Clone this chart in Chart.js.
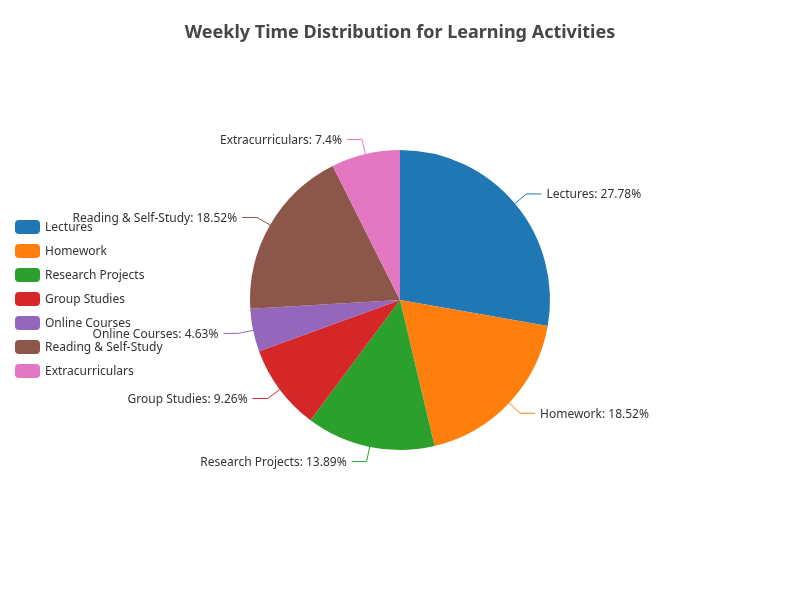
<!DOCTYPE html>
<html>
<head>
<meta charset="utf-8">
<script src="https://cdn.jsdelivr.net/npm/chart.js@4.4.0/dist/chart.umd.min.js"></script>
<style>
  html, body { margin: 0; padding: 0; background: #fff; }
  #wrap { width: 800px; height: 600px; }
</style>
</head>
<body>
<div id="wrap"><canvas id="pieCanvas" width="800" height="600"></canvas></div>
<script>
// data
var categories = ["Lectures", "Homework", "Research Projects", "Group Studies", "Online Courses", "Reading & Self-Study", "Extracurriculars"];
var hours = [15, 10, 7.5, 5, 2.5, 10, 4];
var colors = ["#1f77b4", "#ff7f0e", "#2ca02c", "#d62728", "#9467bd", "#8c564b", "#e377c2"];
var chartTitle = "Weekly Time Distribution for Learning Activities";

var FONT = '"Noto Sans", "Liberation Sans", sans-serif';

// percentages with 2 decimals, largest remainder so they sum to 100
function percents(vals, precision) {
    var sum = vals.reduce(function(a, b) { return a + b; }, 0);
    var digits = Math.pow(10, precision);
    var target = 100 * digits;
    var raw = vals.map(function(v) { return v / sum * target; });
    var seats = raw.map(function(v) { return Math.floor(v); });
    var rem = raw.map(function(v, i) { return v - seats[i]; });
    var cur = seats.reduce(function(a, b) { return a + b; }, 0);
    while (cur < target) {
        var best = 0;
        for (var i = 1; i < rem.length; i++) if (rem[i] > rem[best]) best = i;
        seats[best]++; rem[best] = -1; cur++;
    }
    return seats.map(function(s) { return s / digits; });
}
var pcts = percents(hours, 2);

var overlay = {
    id: 'overlay',
    afterDraw: function(chart) {
        var ctx = chart.ctx;
        ctx.save();

        // title
        ctx.font = 'bold 18px ' + FONT;
        ctx.fillStyle = '#464646';
        ctx.textAlign = 'center';
        ctx.textBaseline = 'middle';
        ctx.fillText(chartTitle, 400, 33);

        // legend
        ctx.font = '12px ' + FONT;
        ctx.textAlign = 'left';
        var y0 = 227;
        categories.forEach(function(name, i) {
            var y = y0 + i * 24;
            ctx.fillStyle = colors[i];
            ctx.beginPath();
            ctx.roundRect(15, y - 7, 25, 14, 4);
            ctx.fill();
            ctx.fillStyle = '#333';
            ctx.fillText(name, 45, y + 1);
        });

        // outside labels with leader lines
        var meta = chart.getDatasetMeta(0);
        meta.data.forEach(function(arc, i) {
            var mid = (arc.startAngle + arc.endAngle) / 2;
            var r = arc.outerRadius;
            var cx = arc.x, cy = arc.y;
            var x1 = cx + Math.cos(mid) * r, y1 = cy + Math.sin(mid) * r;
            var x2 = cx + Math.cos(mid) * (r + 15), y2 = cy + Math.sin(mid) * (r + 15);
            var right = Math.cos(mid) >= 0;
            var x3 = x2 + (right ? 15 : -15);
            ctx.strokeStyle = colors[i];
            ctx.lineWidth = 1;
            ctx.beginPath();
            ctx.moveTo(x1, y1);
            ctx.lineTo(x2, y2);
            ctx.lineTo(x3, y2);
            ctx.stroke();
            ctx.fillStyle = '#333';
            ctx.textAlign = right ? 'left' : 'right';
            ctx.fillText(categories[i] + ': ' + pcts[i] + '%', x3 + (right ? 5 : -5), y2 + 1);
        });
        ctx.restore();
    }
};

new Chart(document.getElementById("pieCanvas").getContext("2d"), {
    type: 'pie',
    data: {
        labels: categories,
        datasets: [{
            data: hours,
            backgroundColor: colors,
            borderWidth: 0
        }]
    },
    options: {
        responsive: false,
        animation: false,
        layout: { padding: { left: 250, right: 250, top: 150, bottom: 150 } },
        plugins: {
            legend: { display: false },
            title: { display: false },
            tooltip: { enabled: false }
        }
    },
    plugins: [overlay]
});
</script>
</body>
</html>
